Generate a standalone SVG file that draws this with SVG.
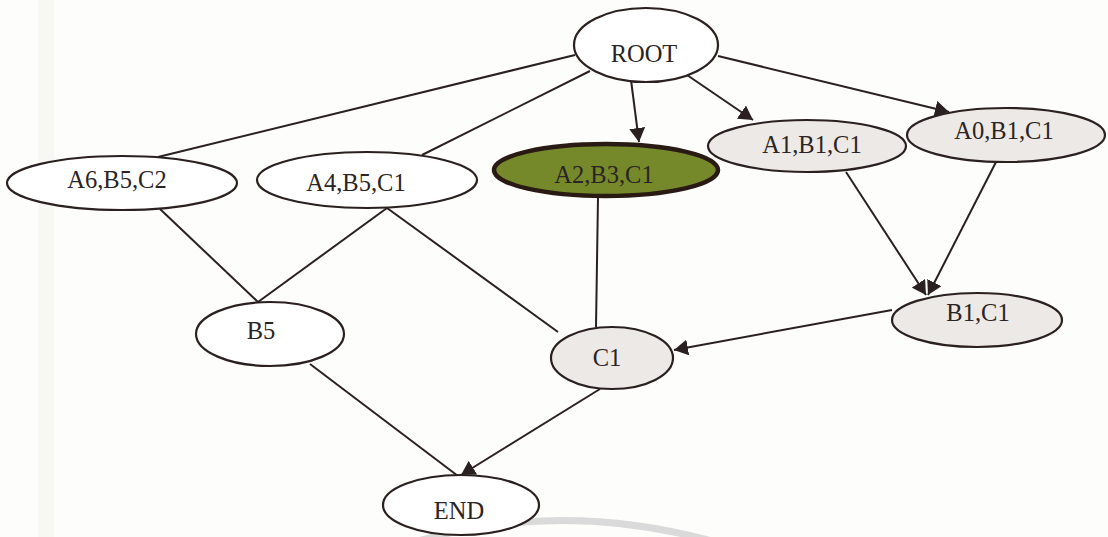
<svg xmlns="http://www.w3.org/2000/svg" width="1108" height="537" viewBox="0 0 1108 537">
  <defs>
    <marker id="arrow" markerUnits="userSpaceOnUse" markerWidth="16" markerHeight="16" refX="14" refY="8" orient="auto">
      <path d="M0,0 L14,8 L0,16 Z" fill="#2a2020"/>
    </marker>
  </defs>
  <style>
    .node { stroke: #2a2020; stroke-width: 2.2; fill: #ffffff; }
    .shaded { fill: #ede9e6; }
    .chosen { fill: #76892a; stroke: #2a1a14; stroke-width: 4.5; }
    .edge { stroke: #2a2020; stroke-width: 2; fill: none; }
    .arrow { marker-end: url(#arrow); }
    text { font-family: "Liberation Serif", "Times New Roman", serif; font-size: 24.5px; fill: #2a2424; text-anchor: middle; }
  </style>

  <!-- paper background -->
  <rect x="0" y="0" width="1108" height="537" fill="#fdfdfc"/>
  <rect x="38" y="0" width="16" height="537" fill="#f7f7f4"/>
  <path d="M418,541 Q560,500 712,541" stroke="#dadada" stroke-width="7" fill="none"/>

  <!-- connectors -->
  <g id="connectors">
    <line class="edge" x1="575" y1="55" x2="158" y2="157"/>
    <line class="edge" x1="590" y1="71" x2="422" y2="155"/>
    <line class="edge arrow" x1="631" y1="80" x2="639" y2="142"/>
    <line class="edge arrow" x1="687" y1="75" x2="753" y2="120"/>
    <line class="edge arrow" x1="718" y1="56" x2="949" y2="112"/>
    <line class="edge" x1="160" y1="209" x2="258" y2="302"/>
    <line class="edge" x1="387" y1="208" x2="258" y2="302"/>
    <line class="edge" x1="387" y1="208" x2="558" y2="332"/>
    <line class="edge" x1="598" y1="197" x2="596" y2="327"/>
    <line class="edge arrow" x1="846" y1="172" x2="926" y2="295"/>
    <line class="edge arrow" x1="996" y1="162" x2="928" y2="295"/>
    <line class="edge arrow" x1="892" y1="310" x2="674" y2="350"/>
    <line class="edge" x1="310" y1="364" x2="458" y2="476"/>
    <line class="edge arrow" x1="600" y1="389" x2="461" y2="475"/>
  </g>

  <g id="root">
    <ellipse class="node" cx="646" cy="45" rx="72" ry="37"/>
    <text x="644" y="62">ROOT</text>
  </g>
  <g id="a6b5c2">
    <ellipse class="node" cx="122" cy="183" rx="115" ry="27"/>
    <text x="117" y="188">A6,B5,C2</text>
  </g>
  <g id="a4b5c1">
    <ellipse class="node" cx="367" cy="180" rx="110" ry="28"/>
    <text x="356" y="191">A4,B5,C1</text>
  </g>
  <g id="a2b3c1">
    <ellipse class="node chosen" cx="606" cy="170" rx="112" ry="26"/>
    <text x="604" y="183">A2,B3,C1</text>
  </g>
  <g id="a1b1c1">
    <ellipse class="node shaded" cx="807" cy="146" rx="99" ry="26"/>
    <text x="812" y="153">A1,B1,C1</text>
  </g>
  <g id="a0b1c1">
    <ellipse class="node shaded" cx="1006" cy="135" rx="99" ry="27"/>
    <text x="1004" y="139">A0,B1,C1</text>
  </g>
  <g id="b5">
    <ellipse class="node" cx="270" cy="334" rx="74" ry="32"/>
    <text x="261" y="339">B5</text>
  </g>
  <g id="c1">
    <ellipse class="node shaded" cx="612" cy="358" rx="61" ry="31"/>
    <text x="607" y="366">C1</text>
  </g>
  <g id="b1c1">
    <ellipse class="node shaded" cx="977" cy="320" rx="85" ry="27"/>
    <text x="978" y="321">B1,C1</text>
  </g>
  <g id="end">
    <ellipse class="node" cx="461" cy="505" rx="78" ry="30"/>
    <text x="459" y="519">END</text>
  </g>
</svg>
